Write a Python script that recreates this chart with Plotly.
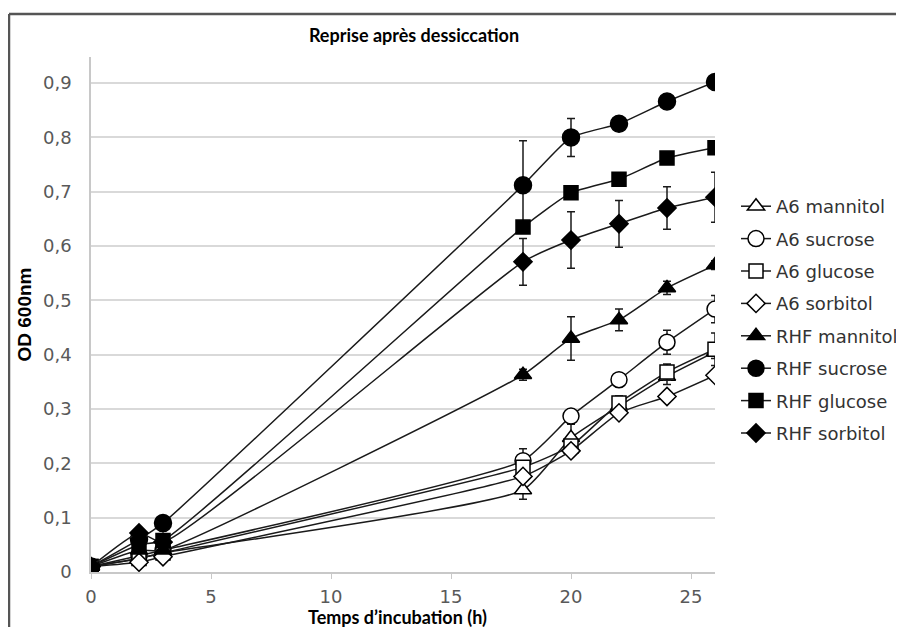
import plotly.graph_objects as go

hours = [0, 2, 3, 18, 20, 22, 24, 26]

series_names = ["A6 mannitol", "A6 sucrose", "A6 glucose", "A6 sorbitol",
                "RHF mannitol", "RHF sucrose", "RHF glucose", "RHF sorbitol"]

a6_mannitol = [0.01, 0.025, 0.035, 0.151, 0.247, 0.305, 0.360, 0.405]
a6_sucrose = [0.01, 0.030, 0.040, 0.205, 0.287, 0.354, 0.423, 0.484]
a6_glucose = [0.01, 0.025, 0.035, 0.193, 0.232, 0.311, 0.368, 0.410]
a6_sorbitol = [0.01, 0.018, 0.028, 0.176, 0.223, 0.293, 0.323, 0.362]
rhf_mannitol = [0.01, 0.040, 0.040, 0.363, 0.430, 0.464, 0.523, 0.565]
rhf_sucrose = [0.01, 0.060, 0.090, 0.712, 0.800, 0.825, 0.866, 0.902]
rhf_glucose = [0.01, 0.050, 0.058, 0.635, 0.698, 0.723, 0.762, 0.781]
rhf_sorbitol = [0.01, 0.072, 0.055, 0.571, 0.611, 0.641, 0.670, 0.690]

a6_mannitol_err = [0, 0, 0, 0.017, 0.025, 0.012, 0.015, 0.012]
a6_sucrose_err = [0, 0, 0, 0.022, 0.010, 0.010, 0.022, 0.025]
a6_glucose_err = [0, 0, 0, 0.010, 0.010, 0.013, 0.015, 0.030]
a6_sorbitol_err = [0, 0, 0, 0.010, 0.010, 0.010, 0.010, 0.010]
rhf_mannitol_err = [0, 0, 0, 0.010, 0.040, 0.020, 0.012, 0.008]
rhf_sucrose_err = [0, 0, 0, 0.082, 0.035, 0.008, 0.008, 0.008]
rhf_glucose_err = [0, 0, 0, 0.010, 0.008, 0.008, 0.008, 0.008]
rhf_sorbitol_err = [0, 0, 0, 0.043, 0.052, 0.043, 0.039, 0.046]

y_ticks = [0, 0.1, 0.2, 0.3, 0.4, 0.5, 0.6, 0.7, 0.8, 0.9]
y_tick_labels = ["0", "0,1", "0,2", "0,3", "0,4", "0,5", "0,6", "0,7", "0,8", "0,9"]
x_ticks = [0, 5, 10, 15, 20, 25]

values = [a6_mannitol, a6_sucrose, a6_glucose, a6_sorbitol,
          rhf_mannitol, rhf_sucrose, rhf_glucose, rhf_sorbitol]
errors = [a6_mannitol_err, a6_sucrose_err, a6_glucose_err, a6_sorbitol_err,
          rhf_mannitol_err, rhf_sucrose_err, rhf_glucose_err, rhf_sorbitol_err]
symbols = ["triangle-up", "circle", "square", "diamond",
           "triangle-up", "circle", "square", "diamond"]
fills = ["white"] * 4 + ["black"] * 4
sizes = [15, 16, 14, 14, 15, 17, 14, 14]

fig = go.Figure()
for i, (name, v, e, s, f, sz) in enumerate(zip(series_names, values, errors, symbols, fills, sizes)):
    fig.add_trace(go.Scatter(
        x=hours, y=v, name=name, mode="lines+markers", legendgroup=f"g{i}",
        line=dict(color="#1a1a1a", width=1.5, shape="spline", smoothing=0.5),
        marker=dict(symbol=s, size=sz, color=f, line=dict(color="black", width=1.5)),
        error_y=dict(type="data", array=e, color="#1a1a1a", thickness=1.5, width=4),
    ))

# page body has an 8px margin: figure coordinates = screen px - 8
OFF = 8
W, H = 904 - OFF, 627 - OFF
L, T = 91 - OFF, 57 - OFF
PR, PB = 715 - OFF, 572 - OFF
R, B = W - PR, H - PB
pw, ph = PR - L, PB - T
fx = lambda px: (px - OFF - L) / pw
fy = lambda py: (PB - (py - OFF)) / ph
cx = lambda px: (px - OFF) / W
cy = lambda py: 1 - (py - OFF) / H

tick_font = dict(family="DejaVu Sans", size=18, color="#595959")

fig.update_layout(
    width=W, height=H,
    margin=dict(l=L, r=R, t=T, b=B, autoexpand=False),
    paper_bgcolor="white", plot_bgcolor="white",
    title=dict(text="<b>Reprise après dessiccation</b>", x=cx(414), xanchor="center",
               xref="container", yref="container",
               y=cy(36), yanchor="middle",
               font=dict(family="Lato", size=18, color="black")),
    showlegend=True,
    legend=dict(x=cx(736), y=cy(188), xref="container", yref="container",
                xanchor="left", yanchor="top",
                font=dict(family="DejaVu Sans", size=18, color="#333333"),
                bgcolor="rgba(0,0,0,0)", tracegroupgap=6),
    xaxis=dict(range=[0, 26], tickvals=x_ticks, showgrid=False, zeroline=False,
               showline=True, linecolor="#c8c8c8", linewidth=1.5,
               ticks="outside", ticklen=5, tickcolor="#c8c8c8",
               ticklabelstandoff=3, tickfont=tick_font),
    yaxis=dict(range=[0, 0.948], tickvals=y_ticks, ticktext=y_tick_labels,
               showgrid=True, gridcolor="#d9d9d9", gridwidth=1.5, zeroline=False,
               showline=True, linecolor="#c8c8c8", linewidth=1.5, ticks="",
               ticklabelstandoff=14, tickfont=tick_font,
               title=dict(text="<b>OD 600nm</b>", standoff=6,
                          font=dict(family="Liberation Sans", size=19, color="black"))),
    annotations=[
        dict(text="<b>Temps d’incubation (h)</b>", xref="paper", yref="paper",
             x=fx(397), y=fy(617), xanchor="center", yanchor="middle",
             showarrow=False, borderpad=0,
             font=dict(family="Lato", size=18, color="black")),
    ],
    shapes=[
        dict(type="line", xref="paper", yref="paper", x0=fx(9), x1=fx(9),
             y0=fy(700), y1=fy(14), line=dict(color="#555555", width=2.5)),
        dict(type="line", xref="paper", yref="paper", x0=fx(9), x1=fx(1000),
             y0=fy(14), y1=fy(14), line=dict(color="#555555", width=2.5)),
    ],
)

fig.write_html("out.html")
